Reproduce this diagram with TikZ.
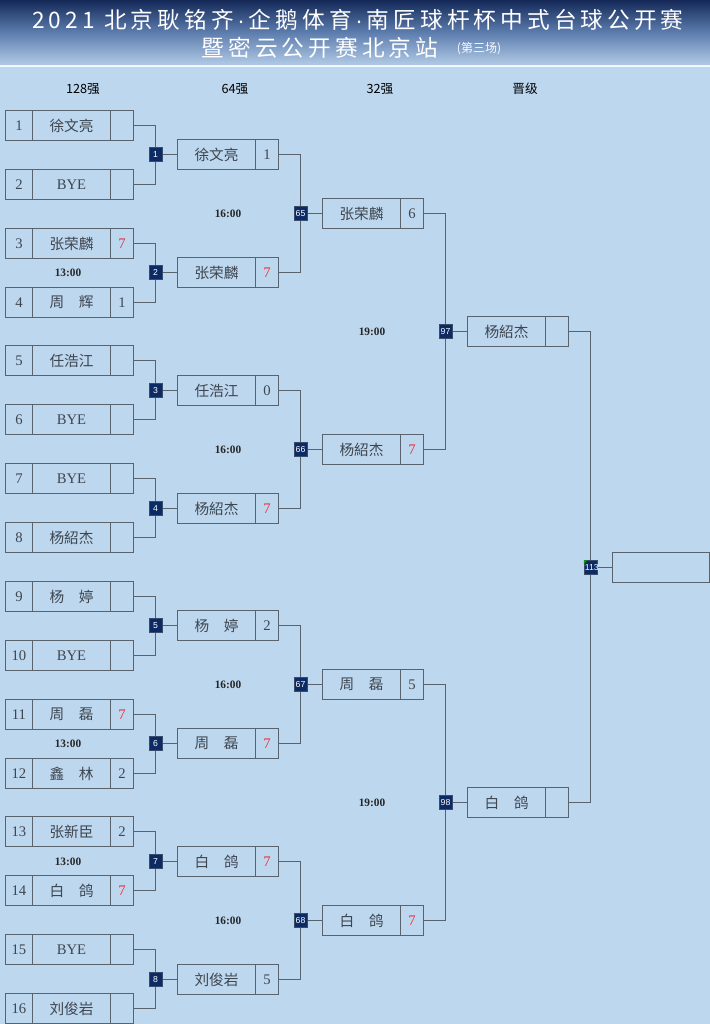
\documentclass[tikz,border=0pt]{standalone}
\usepackage{fontspec}
\setmainfont{Liberation Serif}
\newfontfamily\cjk{Noto Sans CJK SC}
\newfontfamily\titlefont[LetterSpace=18]{Noto Sans CJK SC}
\newfontfamily\badgefont{Liberation Sans}
\definecolor{bgc}{HTML}{BDD7EE}
\definecolor{navy}{HTML}{142958}
\definecolor{hdrmid}{HTML}{5D7DAE}
\definecolor{hdrlow}{HTML}{B1CAE6}
\definecolor{ln}{HTML}{58636E}
\definecolor{txt}{HTML}{3E4650}
\definecolor{badgec}{HTML}{0C2A63}
\definecolor{redsc}{HTML}{E8323C}
\pgfdeclarelayer{bottom}
\pgfdeclarelayer{lines}
\pgfsetlayers{bottom,lines,main}
\newcommand\R{{\color{redsc}7}}
\newcommand\N[1]{{\cjk #1}}
\newcommand\md{{\badgefont\addfontfeatures{LetterSpace=0}\,·\,}}
\tikzset{
  cell/.style={draw=ln, line width=0.75pt, minimum height=30*0.75pt, inner sep=0pt, text=txt, font=\fontsize{11}{12}\selectfont},
  conn/.style={draw=ln, line width=0.75pt},
  badge/.style={fill=badgec, draw=ln!60!badgec, line width=0.3pt, minimum width=13*0.75pt, minimum height=14*0.75pt, inner sep=0pt, text=white, font=\badgefont\fontsize{6.5}{7}\selectfont},
  timelbl/.style={font=\bfseries\fontsize{8.5}{10}\selectfont, text=black!85},
  colhdr/.style={font=\cjk\fontsize{9.5}{11}\selectfont, text=black}
}
\begin{document}
\begin{tikzpicture}[x=0.75pt,y=-0.75pt]
\begin{pgfonlayer}{bottom}
\fill[bgc] (0,0) rectangle (710,1024);
\shade[top color=navy, bottom color=hdrlow, middle color=hdrmid] (0,0) rectangle (710,65);
\fill[white!80!bgc] (0,65) rectangle (710,67.5);
\end{pgfonlayer}
\useasboundingbox (0,0) rectangle (710,1024);

% title
\node[text=white, font=\titlefont\fontsize{17}{20}\selectfont, inner sep=0pt] (t1) at (358,20) {2021 北京耿铭齐\md 企鹅体育\md 南匠球杆杯中式台球公开赛};
\node[text=white, font=\titlefont\fontsize{17}{20}\selectfont, inner sep=0pt] (t2) at (320,47.5) {暨密云公开赛北京站};
\node[text=white!90!bgc, font=\cjk\fontsize{9}{10}\selectfont, inner sep=0pt] (t3) at (479,49) {(第三场)};

% column headers
\node[colhdr] (h1) at (83,89) {128强};
\node[colhdr] (h2) at (235,89) {64强};
\node[colhdr] (h3) at (380,89) {32强};
\node[colhdr] (h4) at (525,89) {晋级};

% round 1
\foreach \i/\nm/\sc in {1/\N{徐文亮}/{},2/BYE/{},3/\N{张荣麟}/\R,4/\N{周　辉}/1,5/\N{任浩江}/{},6/BYE/{},7/BYE/{},8/\N{杨紹杰}/{},9/\N{杨　婷}/{},10/BYE/{},11/\N{周　磊}/\R,12/\N{鑫　林}/2,13/\N{张新臣}/2,14/\N{白　鸽}/\R,15/BYE/{},16/\N{刘俊岩}/{}}{
  \pgfmathsetmacro\yy{floor(125.5+58.87*(\i-1))+0.5}
  \node[cell, minimum width=27*0.75pt] (a\i-n) at (19,\yy) {\i};
  \node[cell, minimum width=78*0.75pt] (a\i-m) at (71.5,\yy) {\nm};
  \node[cell, minimum width=23*0.75pt] (a\i-s) at (122,\yy) {\sc};
}

% round 2
\foreach \j/\nm/\sc in {1/\N{徐文亮}/1,2/\N{张荣麟}/\R,3/\N{任浩江}/0,4/\N{杨紹杰}/\R,5/\N{杨　婷}/2,6/\N{周　磊}/\R,7/\N{白　鸽}/\R,8/\N{刘俊岩}/5}{
  \pgfmathsetmacro\yy{floor(154.935+117.74*(\j-1))+0.5}
  \node[cell, minimum width=78*0.75pt] (b\j-m) at (216.5,\yy) {\nm};
  \node[cell, minimum width=23*0.75pt] (b\j-s) at (267,\yy) {\sc};
  \node[badge] (ga\j) at (155.5,\yy) {\j};
}

% round 3
\foreach \k/\nm/\sc in {1/\N{张荣麟}/6,2/\N{杨紹杰}/\R,3/\N{周　磊}/5,4/\N{白　鸽}/\R}{
  \pgfmathsetmacro\yy{floor(213.805+235.48*(\k-1))+0.5}
  \pgfmathtruncatemacro\lbl{64+\k}
  \node[cell, minimum width=78*0.75pt] (c\k-m) at (361.5,\yy) {\nm};
  \node[cell, minimum width=23*0.75pt] (c\k-s) at (412,\yy) {\sc};
  \node[badge] (gb\k) at (300.5,\yy) {\lbl};
  \node[timelbl] (tm16-\k) at (228,\yy) {16:00};
}

% round 4
\foreach \m/\nm in {1/\N{杨紹杰},2/\N{白　鸽}}{
  \pgfmathsetmacro\yy{floor(331.545+470.96*(\m-1))+0.5}
  \pgfmathtruncatemacro\lbl{96+\m}
  \node[cell, minimum width=78*0.75pt] (d\m-m) at (506.5,\yy) {\nm};
  \node[cell, minimum width=23*0.75pt] (d\m-s) at (557,\yy) {};
  \node[badge] (gc\m) at (445.5,\yy) {\lbl};
  \node[timelbl] (tm19-\m) at (372,\yy) {19:00};
}

% final
\node[cell, minimum width=97*0.75pt] (f) at (661,567.5) {};
\node[badge] (gd) at (590.5,567.5) {};
\begin{scope}
  \clip (gd.south west) rectangle (gd.north east);
  \node[text=white, font=\badgefont\fontsize{6.5}{7}\selectfont, inner sep=0pt, anchor=west] (gdl) at ([xshift=0.6pt]gd.west) {113};
\end{scope}
\fill[green!65!black] (gd.north west) -- ++(3.5,0) -- ++(-3.5,3.5) -- cycle;

% 13:00 labels
\foreach \j in {2,6,7}{
  \pgfmathsetmacro\yy{floor(154.935+117.74*(\j-1))+0.5}
  \node[timelbl] (tm13-\j) at (68,\yy) {13:00};
}

% connectors
\begin{pgfonlayer}{lines}
\foreach \j in {1,...,8}{
  \pgfmathtruncatemacro\p{2*\j-1}
  \pgfmathtruncatemacro\q{2*\j}
  \draw[conn] (a\p-s.east) -| (ga\j.north);
  \draw[conn] (a\q-s.east) -| (ga\j.south);
  \draw[conn] (ga\j.east) -- (b\j-m.west);
}
\foreach \k in {1,...,4}{
  \pgfmathtruncatemacro\p{2*\k-1}
  \pgfmathtruncatemacro\q{2*\k}
  \draw[conn] (b\p-s.east) -| (gb\k.north);
  \draw[conn] (b\q-s.east) -| (gb\k.south);
  \draw[conn] (gb\k.east) -- (c\k-m.west);
}
\foreach \m in {1,2}{
  \pgfmathtruncatemacro\p{2*\m-1}
  \pgfmathtruncatemacro\q{2*\m}
  \draw[conn] (c\p-s.east) -| (gc\m.north);
  \draw[conn] (c\q-s.east) -| (gc\m.south);
  \draw[conn] (gc\m.east) -- (d\m-m.west);
}
\draw[conn] (d1-s.east) -| (gd.north);
\draw[conn] (d2-s.east) -| (gd.south);
\draw[conn] (gd.east) -- (f.west);
\end{pgfonlayer}
\end{tikzpicture}
\end{document}
